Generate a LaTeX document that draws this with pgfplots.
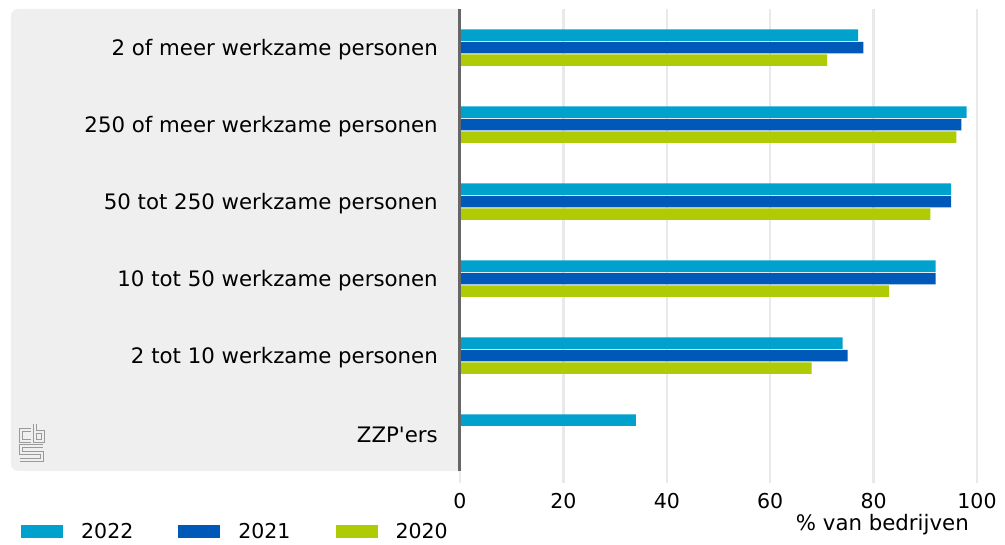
\documentclass[border=0pt]{standalone}
\usepackage{fontspec}
\setmainfont{DejaVu Sans}
\usepackage{pgfplots}
\pgfplotsset{compat=1.18}
\definecolor{c22}{HTML}{00A1CD}
\definecolor{c21}{HTML}{0058B8}
\definecolor{c20}{HTML}{AFCB05}
\definecolor{panel}{HTML}{EFEFEF}
\definecolor{gridc}{HTML}{E9E9E9}
\definecolor{axc}{HTML}{666666}
\definecolor{logoc}{HTML}{9A9A9A}
\begin{document}
\begin{tikzpicture}[font=\fontsize{21.3}{25}\selectfont]
\fill[panel] (0pt,0pt) [rounded corners=7pt] -- (-449pt,0pt) -- (-449pt,462pt) [sharp corners] -- (0pt,462pt) -- cycle;
\begin{axis}[
  at={(0pt,0pt)}, anchor=south west,
  scale only axis, width=517pt, height=462pt,
  xmin=0, xmax=100, ymin=-0.5, ymax=5.5, y dir=reverse,
  xbar, bar width=11.5pt,
  axis line style={draw=none},
  xtick={0,20,...,100}, ytick={0,...,5},
  yticklabels={2 of meer werkzame personen,250 of meer werkzame personen,50 tot 250 werkzame personen,10 tot 50 werkzame personen,2 tot 10 werkzame personen,ZZP\textquotesingle ers},
  ytick style={draw=none},
  xtick pos=bottom, tick align=outside, major tick length=12pt,
  xtick style={draw=gridc, line width=2.5pt},
  xmajorgrids, grid style={draw=gridc, line width=2.5pt},
  yticklabel style={anchor=east, inner sep=0pt, xshift=-10pt, yshift=-2pt},
  xticklabel style={font=\fontsize{20.5}{24}\selectfont, anchor=north, inner sep=0pt, yshift=-10pt},
  /pgf/number format/assume math mode=true,
  clip=false,
  legend columns=3,
  legend style={at={(axis description cs:0,0)}, anchor=west, xshift=-439pt, yshift=-60.5pt,
    draw=none, fill=none, inner sep=0pt,
    nodes={inner sep=0pt, font=\fontsize{20.5}{24}\selectfont},
    /tikz/every odd column/.append style={column sep=18pt},
    /tikz/every even column/.append style={column sep=45pt}},
  legend image code/.code={\fill[#1, draw=none] (0pt,-6.5pt) rectangle (42pt,6.5pt);},
]
\addplot[fill=c22, draw=none, bar shift=12.5pt] coordinates {(77,0) (98,1) (95,2) (92,3) (74,4) (34,5)};
\addplot[fill=c21, draw=none, bar shift=0pt] coordinates {(78,0) (97,1) (95,2) (92,3) (75,4)};
\addplot[fill=c20, draw=none, bar shift=-12.5pt] coordinates {(71,0) (96,1) (91,2) (83,3) (68,4)};
\legend{2022,2021,2020}
\draw[axc, line width=3pt] (axis cs:0,-0.5) -- (axis cs:0,5.5);
\node[anchor=base east, inner sep=0pt] at ([xshift=-8pt, yshift=-59pt]axis description cs:1,0) {\% van bedrijven};
\end{axis}
\begin{scope}[shift={(-460pt,471pt)}, x=1pt, y=-1pt]
  \draw[logoc, line width=1pt, double=panel, double distance=2pt]
    (31,430) -- (21,430) -- (21,441) -- (31,441);
  \draw[logoc, line width=1pt, double=panel, double distance=2pt]
    (35,424) -- (35,441) -- (43,441) -- (43,432) -- (35,432);
  \draw[logoc, line width=1pt, double=panel, double distance=2pt]
    (43,446) -- (21,446) -- (21,453) -- (42,453) -- (42,460) -- (20,460);
\end{scope}
\pgfresetboundingbox
\path[use as bounding box] (-460pt,-74pt) rectangle (545pt,471pt);
\end{tikzpicture}
\end{document}
